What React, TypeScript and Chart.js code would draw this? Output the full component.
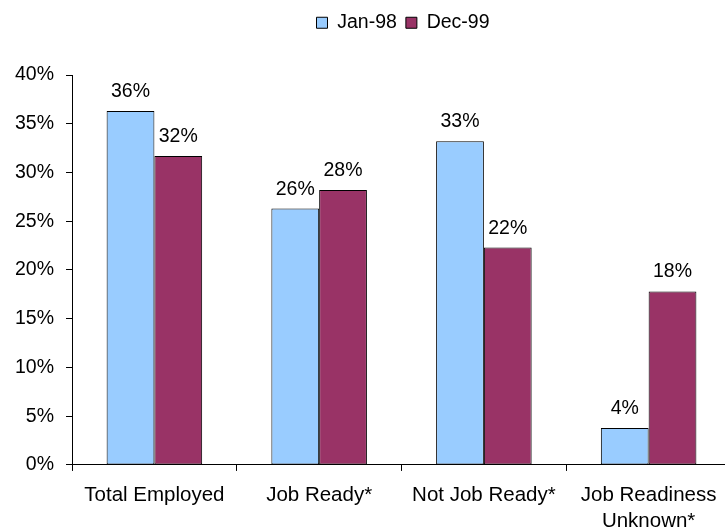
import React, { useEffect, useRef } from "react";
import { Chart, registerables } from "chart.js";

Chart.register(...registerables);

const categories: (string | string[])[] = [
  "Total Employed",
  "Job Ready*",
  "Not Job Ready*",
  ["Job Readiness", "Unknown*"],
];
const jan98 = [36.3, 26.3, 33.2, 3.8];
const dec99 = [31.7, 28.2, 22.3, 17.8];
const jan98Labels = ["36%", "26%", "33%", "4%"];
const dec99Labels = ["32%", "28%", "22%", "18%"];

const FONT = "'Liberation Sans', Arial, sans-serif";

const valueLabels = {
  id: "valueLabels",
  afterDatasetsDraw(chart: any) {
    const ctx = chart.ctx;
    ctx.save();
    ctx.font = `19.5px ${FONT}`;
    ctx.fillStyle = "#000";
    ctx.textAlign = "center";
    ctx.textBaseline = "alphabetic";
    const labelSets = [jan98Labels, dec99Labels];
    chart.data.datasets.forEach((_: any, di: number) => {
      const meta = chart.getDatasetMeta(di);
      meta.data.forEach((bar: any, i: number) => {
        ctx.fillText(labelSets[di][i], bar.x, bar.y - 14);
      });
    });
    ctx.restore();
  },
};

const legendTweak = {
  id: "legendTweak",
  beforeLayout(chart: any) {
    const lg = chart.legend;
    if (lg && !lg.__patched) {
      const orig = lg.fit;
      lg.fit = function () {
        orig.call(this);
        this.height = 71;
      };
      lg.__patched = true;
    }
  },
  afterLayout(chart: any) {
    const lg = chart.legend;
    if (lg) {
      lg.left += 36;
      lg.right += 36;
    }
  },
};

export default function App() {
  const ref = useRef<HTMLCanvasElement>(null);
  useEffect(() => {
    if (!ref.current) return;
    const chart = new Chart(ref.current, {
      type: "bar",
      data: {
        labels: categories,
        datasets: [
          {
            label: "Jan-98",
            data: jan98,
            backgroundColor: "#99CCFF",
            borderColor: "#000",
            borderWidth: 1,
            borderSkipped: false,
          },
          {
            label: "Dec-99",
            data: dec99,
            backgroundColor: "#993366",
            borderColor: "#000",
            borderWidth: 1,
            borderSkipped: false,
          },
        ],
      },
      options: {
        animation: false,
        responsive: true,
        maintainAspectRatio: false,
        layout: { padding: { left: 3, right: 71, top: 4, bottom: 0 } },
        datasets: { bar: { categoryPercentage: 0.58, barPercentage: 1 } },
        plugins: {
          tooltip: { enabled: false },
          legend: {
            position: "top",
            labels: {
              boxWidth: 11,
              boxHeight: 11,
              color: "#000",
              font: { family: FONT, size: 19.5 },
              padding: 9,
            },
          },
        },
        scales: {
          x: {
            offset: true,
            grid: {
              display: true,
              drawOnChartArea: false,
              offset: true,
              color: "#000",
              tickLength: 6,
            },
            border: { display: true, color: "#000", width: 1 },
            ticks: {
              color: "#000",
              font: { family: FONT, size: 20.5, lineHeight: 1.27 },
              maxRotation: 0,
              autoSkip: false,
              padding: 11,
            },
          },
          y: {
            min: 0,
            max: 40,
            grid: {
              display: true,
              drawOnChartArea: false,
              color: "#000",
              tickLength: 6,
            },
            border: { display: true, color: "#000", width: 1 },
            ticks: {
              stepSize: 5,
              color: "#000",
              font: { family: FONT, size: 19.5 },
              padding: 12,
              callback: (v: any) => `${v}%`,
            },
          },
        },
      },
      plugins: [valueLabels, legendTweak],
    });
    return () => chart.destroy();
  }, []);
  return (
    <div
      style={{
        position: "fixed",
        left: 0,
        top: 0,
        width: 725,
        height: 532,
        overflow: "hidden",
        background: "#fff",
      }}
    >
      <div style={{ position: "absolute", left: 0, top: 0, width: 802, height: 545 }}>
        <canvas ref={ref} />
      </div>
    </div>
  );
}
